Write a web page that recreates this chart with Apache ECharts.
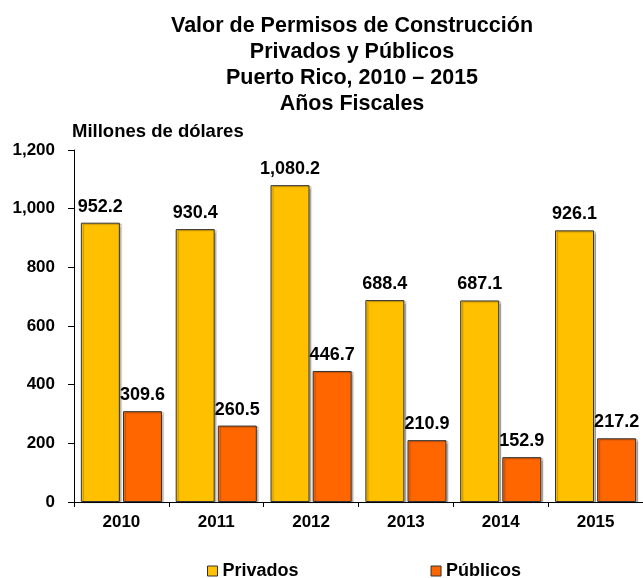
<!DOCTYPE html>
<html>
<head>
<meta charset="utf-8">
<script src="https://cdn.jsdelivr.net/npm/echarts@6/dist/echarts.min.js"></script>
<style>
  html, body { margin: 0; padding: 0; background: #fff; }
  #chart { width: 643px; height: 578px; }
</style>
</head>
<body>
<div id="chart"></div>
<script>
// datos
const years = ['2010', '2011', '2012', '2013', '2014', '2015'];
const privados = [952.2, 930.4, 1080.2, 688.4, 687.1, 926.1];
const publicos = [309.6, 260.5, 446.7, 210.9, 152.9, 217.2];
const yTicks = [0, 200, 400, 600, 800, 1000, 1200];

const font = 'Liberation Sans, Arial, sans-serif';

const chart = echarts.init(document.getElementById('chart'));

function barSeries(name, data, color) {
  return {
    name: name,
    type: 'bar',
    data: data,
    barWidth: 39,
    barGap: '8%',
    itemStyle: {
      color: color,
      borderColor: '#333',
      borderWidth: 1,
      shadowColor: 'rgba(0,0,0,0.25)',
      shadowOffsetX: 2,
      shadowOffsetY: 1,
      shadowBlur: 1
    },
    label: {
      show: true,
      position: 'top',
      distance: 7,
      color: '#000',
      fontFamily: font,
      fontWeight: 'bold',
      fontSize: 18,
      formatter: p => p.value.toLocaleString('en-US', { minimumFractionDigits: 1, maximumFractionDigits: 1 })
    }
  };
}

chart.setOption({
  animation: false,
  title: {
    text: 'Valor de Permisos de Construcción\nPrivados y Públicos\nPuerto Rico, 2010 – 2015\nAños Fiscales',
    left: 347,
    top: 8,
    textAlign: 'center',
    textStyle: {
      fontFamily: font,
      fontWeight: 'bold',
      fontSize: 21.5,
      lineHeight: 26,
      color: '#000'
    }
  },
  graphic: [{
    type: 'text',
    left: 72,
    top: 122,
    style: {
      text: 'Millones de dólares',
      font: 'bold 18.5px ' + font,
      fill: '#000'
    }
  }],
  legend: {
    data: ['Privados', 'Públicos'],
    left: 202,
    top: 557,
    itemWidth: 10,
    itemHeight: 10,
    itemGap: 132,
    icon: 'rect',
    itemStyle: { borderColor: '#333', borderWidth: 1 },
    textStyle: {
      fontFamily: font,
      fontWeight: 'bold',
      fontSize: 18,
      color: '#000'
    }
  },
  grid: {
    left: 74,
    top: 150,
    width: 576,
    height: 352
  },
  xAxis: {
    type: 'category',
    data: years,
    axisLine: { lineStyle: { color: '#000', width: 1 } },
    axisTick: { show: true, length: 5, lineStyle: { color: '#000' } },
    axisLabel: {
      margin: 12,
      color: '#000',
      fontFamily: font,
      fontWeight: 'bold',
      fontSize: 17
    }
  },
  yAxis: {
    type: 'value',
    min: yTicks[0],
    max: yTicks[yTicks.length - 1],
    interval: 200,
    splitLine: { show: false },
    axisLine: { show: true, lineStyle: { color: '#000', width: 1 } },
    axisTick: { show: true, length: 6, lineStyle: { color: '#000' } },
    axisLabel: {
      margin: 19,
      color: '#000',
      fontFamily: font,
      fontWeight: 'bold',
      fontSize: 17,
      formatter: v => v.toLocaleString('en-US')
    }
  },
  series: [
    barSeries('Privados', privados, '#FFC000'),
    barSeries('Públicos', publicos, '#FF6600')
  ]
});
</script>
</body>
</html>
